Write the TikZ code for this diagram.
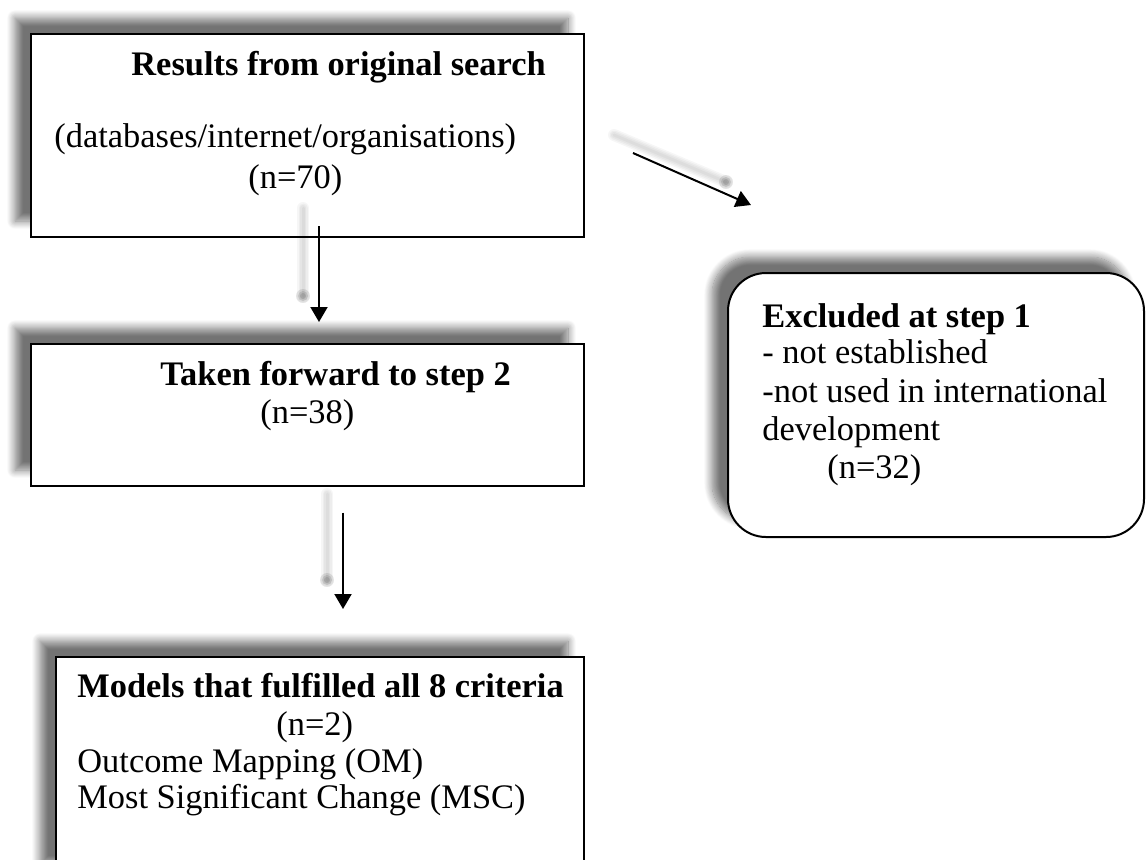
\documentclass[tikz,border=0pt]{standalone}
\usepackage{fontspec}
\setmainfont{Liberation Serif}
\usetikzlibrary{shadows.blur,arrows.meta,calc}

% soft grey trail that follows a connector, ending in a small blot
\newcommand\softtrail[2]{%
  \foreach \w in {6pt,4.5pt,3pt,1.5pt}{%
    \draw[line width=\w, line cap=round, black, opacity=0.035] #1 -- #2;}%
  \foreach \r in {7,5,3}{%
    \fill[black, opacity=0.1] #2 circle[radius=\r];}%
}

\begin{document}
\begin{tikzpicture}[x=0.5pt,y=-0.5pt,
  flowbox/.style={draw=black, line width=1pt, fill=white, inner sep=0pt,
    blur shadow={shadow xshift=-8pt, shadow yshift=8pt,
      shadow blur radius=4pt, shadow blur steps=12, shadow opacity=55}},
  txt/.style={anchor=base west, inner sep=0pt, font=\fontsize{17.2}{20}\selectfont},
  btxt/.style={txt, font=\fontsize{17.2}{20}\selectfont\bfseries},
  arr/.style={-{Triangle[width=8.5pt,length=7.5pt]}, line width=1pt}]

\useasboundingbox (0,0) rectangle (1146,859);
\clip (0,0) rectangle (1146,859);

% boxes
\node[flowbox, minimum width=276.5pt, minimum height=101.5pt] (search) at (307.5,135.5) {};
\node[flowbox, minimum width=276.5pt, minimum height=71pt] (forward) at (307.5,415) {};
\node[flowbox, minimum width=264pt, minimum height=111.5pt] (models) at (320,768.5) {};
\node[flowbox, rounded corners=19pt, minimum width=208pt, minimum height=132pt] (excluded) at (936,405) {};

% texts
\node[btxt] (searchtitle) at (131,75) {Results from original search};
\node[txt] (searchsrc) at (54,147) {(databases/internet/organisations)};
\node[txt] (searchn) at (248,188) {(n=70)};

\node[btxt] (forwardtitle) at (160,385) {Taken forward to step 2};
\node[txt] (forwardn) at (260,423) {(n=38)};

\node[btxt] (modelstitle) at (77,697) {Models that fulfilled all 8 criteria};
\node[txt] (modelsn) at (276,735) {(n=2)};
\node[txt] (modelsom) at (77,772) {Outcome Mapping (OM)};
\node[txt] (modelsmsc) at (77,808) {Most Significant Change (MSC)};

\node[btxt] (excltitle) at (762,327) {Excluded at step 1};
\node[txt] (exclone) at (762,363) {- not established};
\node[txt] (excltwo) at (762,402) {-not used in international};
\node[txt] (exclthree) at (762,440) {development};
\node[txt] (excln) at (827,478) {(n=32)};

% trails behind the connectors
\softtrail{($(search.south)+(-4.5,-30)$)}{($(forward.north)+(-4.5,-47)$)}
\softtrail{($(forward.south)+(19.5,7)$)}{($(models.north)+(7,-76)$)}
\softtrail{($(search.east)+(29,-0.5)$)}{($(excluded.north west)+(-1,-90)$)}

% connectors
\draw[arr] ($(search.south)+(11.5,-12)$) -- ($(forward.north)+(11.5,-21)$);
\draw[arr] ($(forward.south)+(35.5,25.7)$) -- ($(models.north)+(23,-47)$);
\draw[arr] ($(search.east)+(48,17.5)$) -- ($(excluded.north west)+(24,-67)$);

\end{tikzpicture}
\end{document}
